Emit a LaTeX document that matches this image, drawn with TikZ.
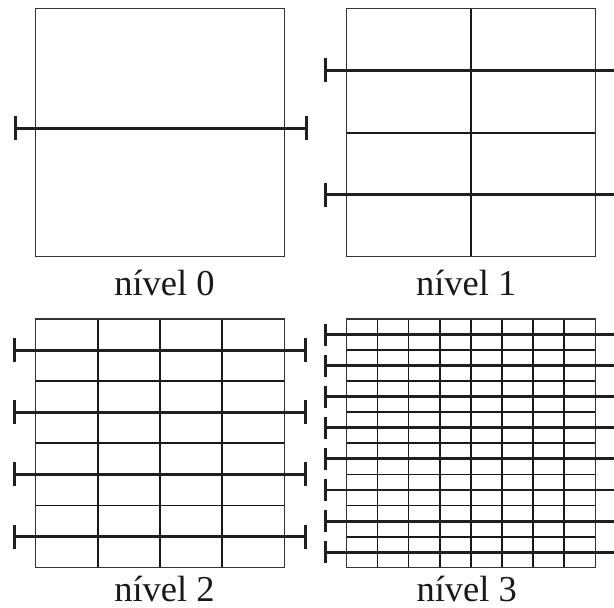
\documentclass[tikz,border=0pt]{standalone}
\usepackage{fontspec}
\setmainfont{Liberation Serif}
\usetikzlibrary{arrows.meta}
\tikzset{
  frame/.style={draw=black!80, line width=1.2pt},
  gridline/.style={draw=black!90, line width=1.8pt},
  cutline/.style={draw=black!88, line width=2.9pt, {Bar[width=24pt]}-{Bar[width=24pt]}},
  cutfine/.style={draw=black!88, line width=2.9pt, {Bar[width=22pt]}-{Bar[width=22pt]}},
  lbl/.style={anchor=base, inner sep=0pt, text=black!90, font=\fontsize{36.5}{40}\selectfont},
}
\begin{document}
\begin{tikzpicture}[x=1pt,y=-1pt]
\useasboundingbox (0,0) rectangle (614,608);
\clip (0,0) rectangle (614,608);

% level 0: one cell, one cut
\draw[frame] (35.7,8.3) rectangle (284.3,256.7);
\coordinate (c0l) at (14.3,128.3);
\coordinate (c0r) at (308.3,128.3);
\draw[cutline] (c0l) -- (c0r);
\node[lbl] (n0) at (164.5,295) {nível 0};

% level 1: 2 x 2 cells, two cuts
\draw[gridline] (470.8,8.3) -- (470.8,256.7);
\draw[gridline] (346.3,132.8) -- (595.3,132.8);
\draw[frame] (346.3,8.3) rectangle (595.3,256.7);
\foreach \j in {1,3} {
  \coordinate (c1l\j) at (324,{8.3+62.1*\j});
  \coordinate (c1r\j) at (619.5,{8.3+62.1*\j});
  \draw[cutline] (c1l\j) -- (c1r\j);
}
\node[lbl] (n1) at (466.2,295) {nível 1};

% level 2: 4 x 8 cells, four cuts
\foreach \i in {1,2,3}
  \draw[gridline] ({35.7+62.15*\i},319) -- ({35.7+62.15*\i},567.7);
\foreach \j in {1,...,7}
  \draw[gridline] (35.7,{319+31.09*\j}) -- (284.3,{319+31.09*\j});
\draw[frame] (35.7,319) rectangle (284.3,567.7);
\foreach \j in {1,3,5,7} {
  \coordinate (c2l\j) at (13.3,{319+31.09*\j});
  \coordinate (c2r\j) at (306.5,{319+31.09*\j});
  \draw[cutline] (c2l\j) -- (c2r\j);
}
\node[lbl] (n2) at (164.5,601) {nível 2};

% level 3: 8 x 16 cells, eight cuts
\foreach \i in {1,...,7}
  \draw[gridline] ({346.3+31.125*\i},319) -- ({346.3+31.125*\i},567.7);
\foreach \j in {1,...,15}
  \draw[gridline] (346.3,{319+15.544*\j}) -- (595.3,{319+15.544*\j});
\draw[frame] (346.3,319) rectangle (595.3,567.7);
\foreach \j in {1,3,...,15} {
  \coordinate (c3l\j) at (324,{319+15.544*\j});
  \coordinate (c3r\j) at (619,{319+15.544*\j});
  \draw[cutfine] (c3l\j) -- (c3r\j);
}
\node[lbl] (n3) at (466.7,601) {nível 3};
\end{tikzpicture}
\end{document}
